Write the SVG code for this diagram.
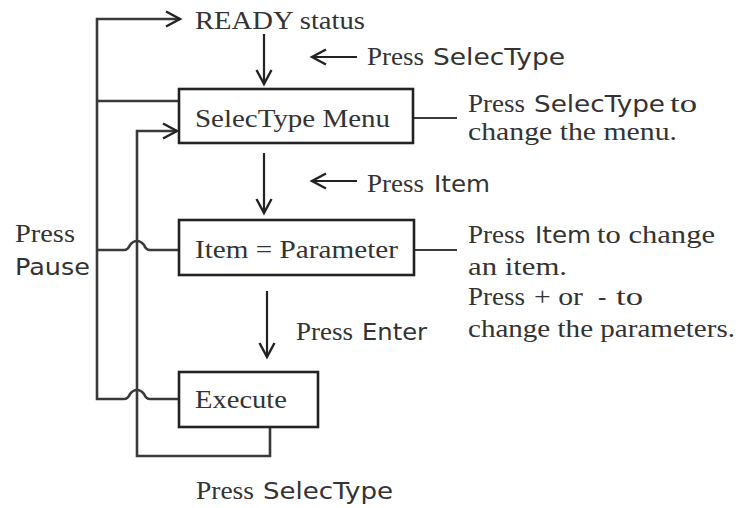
<svg xmlns="http://www.w3.org/2000/svg" width="744" height="508" viewBox="0 0 744 508">
<defs>
<marker id="ah" markerUnits="userSpaceOnUse" markerWidth="20" markerHeight="20" refX="16" refY="10" orient="auto" overflow="visible">
<path d="M2,2.5 L16,10 L2,17.5" fill="none" stroke="#222" stroke-width="2.4"/>
</marker>
<style>
.ln{fill:none;stroke:#3a3a3a;stroke-width:2.6}
.ar{fill:none;stroke:#222;stroke-width:2.2;marker-end:url(#ah)}
.bx{fill:#fff;stroke:#222;stroke-width:2.6}
.s{font-family:"Liberation Serif","DejaVu Serif",serif;font-size:25px;fill:#333}
.g{font-family:"DejaVu Sans","Liberation Sans",sans-serif;fill:#333}
</style>
</defs>
<rect width="744" height="508" fill="#fff"/>
<g id="connectors">
<path class="ln" d="M179,399 H150 Q146,399 144,394 Q141,390 137,390 Q133,390 130,394 Q128,399 124,399 H97 V19 H180" style="marker-end:url(#ah)"/>
<path class="ln" d="M179,101 H97"/>
<path class="ln" d="M179,250 H150 Q146,250 144,245 Q141,241 137,241 Q133,241 130,245 Q128,250 124,250 H97"/>
<path class="ln" d="M270,427 V456 H137 V131 H177" style="marker-end:url(#ah)"/>
<path class="ar" d="M264,34 V84"/>
<path class="ar" d="M264,153 V213"/>
<path class="ar" d="M267,291 V357"/>
<path class="ar" d="M357,57 H312"/>
<path class="ar" d="M357,181 H312"/>
<path class="ln" d="M413,118 H457" style="stroke-width:2"/>
<path class="ln" d="M414,250 H457" style="stroke-width:2"/>
</g>
<g id="ready">
<text class="s" x="195" y="29" textLength="170" lengthAdjust="spacingAndGlyphs">READY status</text>
</g>
<g id="menu">
<rect class="bx" x="179" y="89" width="234" height="54"/>
<text class="s" x="195" y="127" textLength="195" lengthAdjust="spacingAndGlyphs">SelecType Menu</text>
</g>
<g id="item">
<rect class="bx" x="179" y="220" width="235" height="55"/>
<text class="s" x="195" y="258" textLength="203" lengthAdjust="spacingAndGlyphs">Item = Parameter</text>
</g>
<g id="execute">
<rect class="bx" x="179" y="372" width="139" height="55"/>
<text class="s" x="195" y="408" textLength="92" lengthAdjust="spacingAndGlyphs">Execute</text>
</g>
<g id="labels">
<text class="s" x="367" y="65"><tspan textLength="57" lengthAdjust="spacingAndGlyphs">Press</tspan><tspan class="g" x="433" font-size="23" textLength="132" lengthAdjust="spacingAndGlyphs">SelecType</tspan></text>
<text class="s" x="367" y="192"><tspan textLength="57" lengthAdjust="spacingAndGlyphs">Press</tspan><tspan class="g" x="434" font-size="23" textLength="56" lengthAdjust="spacingAndGlyphs">Item</tspan></text>
<text class="s" x="296" y="340"><tspan textLength="57" lengthAdjust="spacingAndGlyphs">Press</tspan><tspan class="g" x="362" font-size="23" textLength="65" lengthAdjust="spacingAndGlyphs">Enter</tspan></text>
<text class="s" x="15" y="242" textLength="60" lengthAdjust="spacingAndGlyphs">Press</text>
<text class="g" x="15" y="275" font-size="23" textLength="75" lengthAdjust="spacingAndGlyphs">Pause</text>
<text class="s" x="196" y="499"><tspan textLength="58" lengthAdjust="spacingAndGlyphs">Press</tspan><tspan class="g" x="263" font-size="23" textLength="130" lengthAdjust="spacingAndGlyphs">SelecType</tspan></text>
<text class="s" x="468" y="112"><tspan textLength="57" lengthAdjust="spacingAndGlyphs">Press</tspan><tspan class="g" x="534" font-size="23" textLength="131" lengthAdjust="spacingAndGlyphs">SelecType</tspan><tspan x="670" textLength="27" lengthAdjust="spacingAndGlyphs">to</tspan></text>
<text class="s" x="468" y="140" textLength="209" lengthAdjust="spacingAndGlyphs">change the menu.</text>
<text class="s" x="468" y="243"><tspan textLength="57" lengthAdjust="spacingAndGlyphs">Press</tspan><tspan class="g" x="535" font-size="23" textLength="56" lengthAdjust="spacingAndGlyphs">Item</tspan><tspan x="597" textLength="118" lengthAdjust="spacingAndGlyphs">to change</tspan></text>
<text class="s" x="468" y="275" textLength="99" lengthAdjust="spacingAndGlyphs">an item.</text>
<text class="s" x="468" y="305"><tspan textLength="57" lengthAdjust="spacingAndGlyphs">Press</tspan><tspan x="534" textLength="49" lengthAdjust="spacingAndGlyphs">+ or</tspan><tspan x="598">-</tspan><tspan x="616" textLength="27" lengthAdjust="spacingAndGlyphs">to</tspan></text>
<text class="s" x="468" y="337" textLength="267" lengthAdjust="spacingAndGlyphs">change the parameters.</text>
</g>
</svg>
